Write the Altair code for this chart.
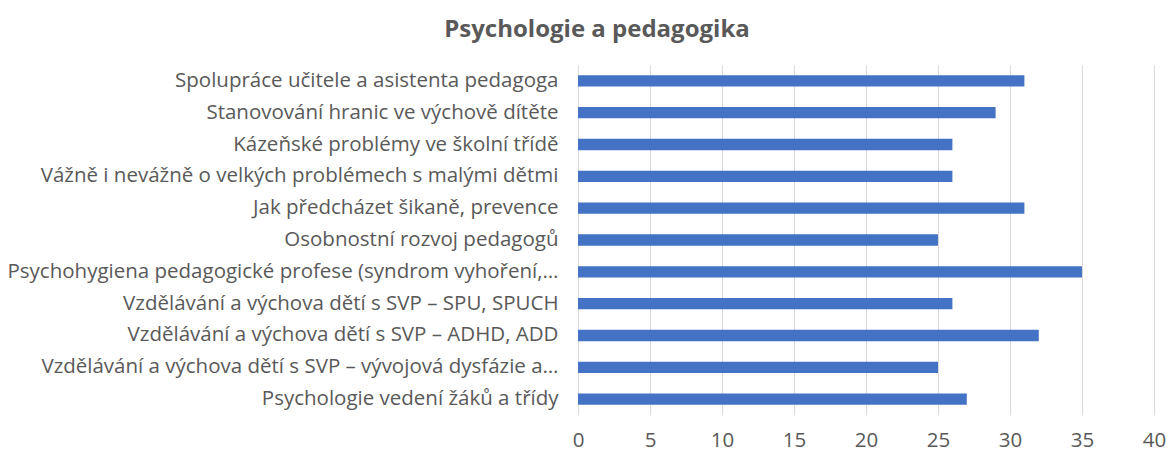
import altair as alt
import pandas as pd

categories = [
    "Spolupráce učitele a asistenta pedagoga",
    "Stanovování hranic ve výchově dítěte",
    "Kázeňské problémy ve školní třídě",
    "Vážně i nevážně o velkých problémech s malými dětmi",
    "Jak předcházet šikaně, prevence",
    "Osobnostní rozvoj pedagogů",
    "Psychohygiena pedagogické profese (syndrom vyhoření,…",
    "Vzdělávání a výchova dětí s SVP – SPU, SPUCH",
    "Vzdělávání a výchova dětí s SVP – ADHD, ADD",
    "Vzdělávání a výchova dětí s SVP – vývojová dysfázie a…",
    "Psychologie vedení žáků a třídy",
]
values = [31, 29, 26, 26, 31, 25, 35, 26, 32, 25, 27]
x_ticks = [0, 5, 10, 15, 20, 25, 30, 35, 40]

df = pd.DataFrame({"tema": categories, "pocet": values})

FONT = "Open Sans"
GRAY = "#595959"

chart = (
    alt.Chart(df)
    .mark_bar(color="#4472C4")
    .encode(
        y=alt.Y(
            "tema:N",
            sort=categories,
            title=None,
            scale=alt.Scale(paddingInner=0.645, paddingOuter=0.32),
            axis=alt.Axis(
                domain=False,
                ticks=False,
                labelFont=FONT,
                labelFontSize=20.5,
                labelColor=GRAY,
                labelPadding=20,
                labelLimit=0,
            ),
        ),
        x=alt.X(
            "pocet:Q",
            title=None,
            scale=alt.Scale(domain=[0, 40], nice=False),
            axis=alt.Axis(
                values=x_ticks,
                domain=False,
                ticks=False,
                grid=True,
                gridColor="#D9D9D9",
                gridWidth=1,
                labelFont=FONT,
                labelFontSize=20.5,
                labelColor=GRAY,
                labelPadding=15,
                labelFlush=False,
            ),
        ),
    )
    .properties(
        width=576,
        height=350,
        autosize=alt.AutoSizeParams(type="none"),
        padding={"left": 570, "top": 57, "right": 12, "bottom": 39},
        title=alt.TitleParams(
            "Psychologie a pedagogika",
            font=FONT,
            fontSize=24,
            fontWeight="bold",
            color=GRAY,
            anchor="middle",
            frame="group",
            dx=-269,
            offset=23,
        ),
    )
    .configure_view(stroke=None)
)

chart.save("out.html", embed_options={"renderer": "svg", "actions": False})
